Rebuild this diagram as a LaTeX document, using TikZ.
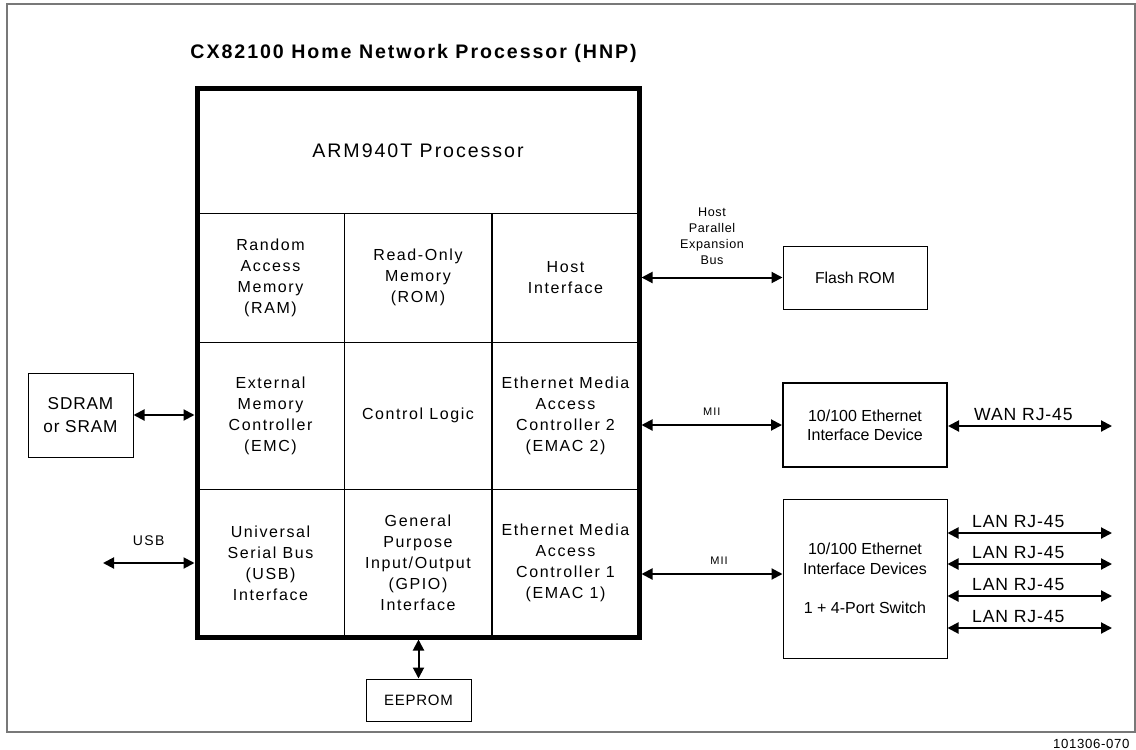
\documentclass[tikz,border=0pt]{standalone}
\usepackage{fontspec}
\setmainfont{Liberation Sans}[LetterSpace=10]
\newfontfamily\plainfont{Liberation Sans}
\newfontfamily\portfont{Liberation Sans}[LetterSpace=5]
\usetikzlibrary{
    positioning,      % For placing nodes relative to each other
    arrows.meta,      % For modern arrow tips (e.g., Triangle)
    calc              % For calculating coordinates
}
\definecolor{framegray}{RGB}{120,120,120}

\begin{document}
\begin{tikzpicture}[
    % One unit is one pixel of the reference
    x=0.5pt, y=-0.5pt,
    % Style for the blocks inside the processor
    cell_style/.style={
        draw,
        line width=0.5pt,
        minimum width=74pt,
        inner sep=0pt,
        align=center,
        font=\fontsize{8}{10.5}\selectfont
    },
    % Style for the parts outside the processor
    part_style/.style={
        draw,
        line width=0.5pt,
        inner sep=0pt,
        align=center
    },
    % Style for the two-headed bus arrows
    bus_arrow/.style={
        {Triangle[length=5.5pt, width=5.5pt]}-{Triangle[length=5.5pt, width=5.5pt]},
        line width=1pt
    },
    % Style for the small bus labels
    bus_label/.style={
        font=\portfont\fontsize{6.3}{8}\selectfont,
        inner sep=0pt,
        align=center
    },
    % Style for the connector labels on the right
    port_label/.style={
        font=\portfont\fontsize{8.8}{10.5}\selectfont,
        inner sep=0pt
    }
]
    \useasboundingbox (0,0) rectangle (1136,750);

    % 1. Outer frame, title and figure number.
    \draw[framegray, line width=0.75pt] (7,4) rectangle (1135,732);
    \node[anchor=west, inner sep=0pt, font=\bfseries\fontsize{9.8}{12}\selectfont] (title) at (190,53) {CX82100 Home Network Processor (HNP)};
    \node[anchor=east, inner sep=0pt, font=\portfont\fontsize{6.6}{8}\selectfont] (fig_id) at (1130,744) {101306-070};

    % 2. Blocks of the processor.
    \node[cell_style, minimum width=221pt, minimum height=62.5pt, font=\fontsize{9.8}{12}\selectfont] (arm) at (418,150.5) {ARM940T Processor};

    \node[cell_style, minimum height=64.5pt] (ram) at (270.5,277.5) {Random\\Access\\Memory\\(RAM)};
    \node[cell_style, minimum height=64.5pt] (rom) at (418,277.5) {Read-Only\\Memory\\(ROM)};
    \node[cell_style, minimum height=64.5pt] (hostif) at (565.5,277.5) {Host\\Interface};

    \node[cell_style, minimum height=73.5pt] (emc) at (270.5,415.5) {External\\Memory\\Controller\\(EMC)};
    \node[cell_style, minimum height=73.5pt] (ctrl) at (418,415.5) {Control Logic};
    \node[cell_style, minimum height=73.5pt] (emac2) at (565.5,415.5) {Ethernet Media\\Access\\Controller 2\\(EMAC 2)};

    \node[cell_style, minimum height=74pt] (usb) at (270.5,563) {Universal\\Serial Bus\\(USB)\\Interface};
    \node[cell_style, minimum height=74pt] (gpio) at (418,563) {General\\Purpose\\Input/Output\\(GPIO)\\Interface};
    \node[cell_style, minimum height=74pt] (emac1) at (565.5,563) {Ethernet Media\\Access\\Controller 1\\(EMAC 1)};

    % thick border round the whole chip
    \node[draw, line width=2.5pt, minimum width=221pt, minimum height=274.5pt, inner sep=0pt] (hnp) at (418,362.5) {};

    % 3. Parts outside the chip.
    \node[part_style, minimum width=72pt, minimum height=31.5pt, font=\plainfont\fontsize{7.9}{9.5}\selectfont] (flash) at (855,277.5) {Flash ROM};
    \node[part_style, line width=1pt, minimum width=82pt, minimum height=42pt, font=\plainfont\fontsize{8}{9.5}\selectfont] (ethdev) at (865,425) {10/100 Ethernet\\Interface Device};
    \node[part_style, minimum width=82pt, minimum height=79.5pt, font=\plainfont\fontsize{8}{9.75}\selectfont] (switch) at (865,578.5) {10/100 Ethernet\\Interface Devices\\[9.75pt]1 + 4-Port Switch};
    \node[part_style, minimum width=52.5pt, minimum height=42pt, font=\portfont\fontsize{8.6}{11.5}\selectfont] (sdram) at (80.5,415) {SDRAM\\or SRAM};
    \node[part_style, minimum width=52.5pt, minimum height=21pt, font=\portfont\fontsize{7.5}{9}\selectfont] (eeprom) at (418.5,700) {EEPROM};

    % 4. Bus arrows.
    \draw[bus_arrow] (hnp.east |- hostif) -- (flash.west)
        node[bus_label, midway, above=5.75pt] {Host\\Parallel\\Expansion\\Bus};
    \draw[bus_arrow] (hnp.east |- ethdev.west) -- (ethdev.west)
        node[bus_label, midway, above=4.5pt, font=\fontsize{5.5}{7}\selectfont] {MII};
    \coordinate (sw_in) at ([yshift=2.25pt]switch.west);
    \draw[bus_arrow] (hnp.east |- sw_in) -- (sw_in)
        node[bus_label, pos=0.55, above=4.5pt, font=\fontsize{5.5}{7}\selectfont] {MII};

    \coordinate (wan_end) at (1112,426);
    \draw[bus_arrow] (ethdev.east |- wan_end) -- (wan_end)
        node[port_label, pos=0.46, above=2.25pt] {WAN RJ-45};
    \foreach \y [count=\i] in {533,564,596,628} {
        \coordinate (lan_end\i) at (1112,\y);
        \draw[bus_arrow] (switch.east |- lan_end\i) -- (lan_end\i)
            node[port_label, pos=0.43, above=2.25pt] {LAN RJ-45};
    }

    \draw[bus_arrow] (sdram.east) -- (hnp.west |- sdram.east);
    \coordinate (usb_end) at (103,563);
    \draw[bus_arrow] (usb_end) -- (hnp.west |- usb_end)
        node[bus_label, midway, above=8.25pt, font=\fontsize{7}{8.5}\selectfont] {USB};
    \draw[bus_arrow] (eeprom.north |- hnp.south) -- (eeprom.north);

\end{tikzpicture}
\end{document}
